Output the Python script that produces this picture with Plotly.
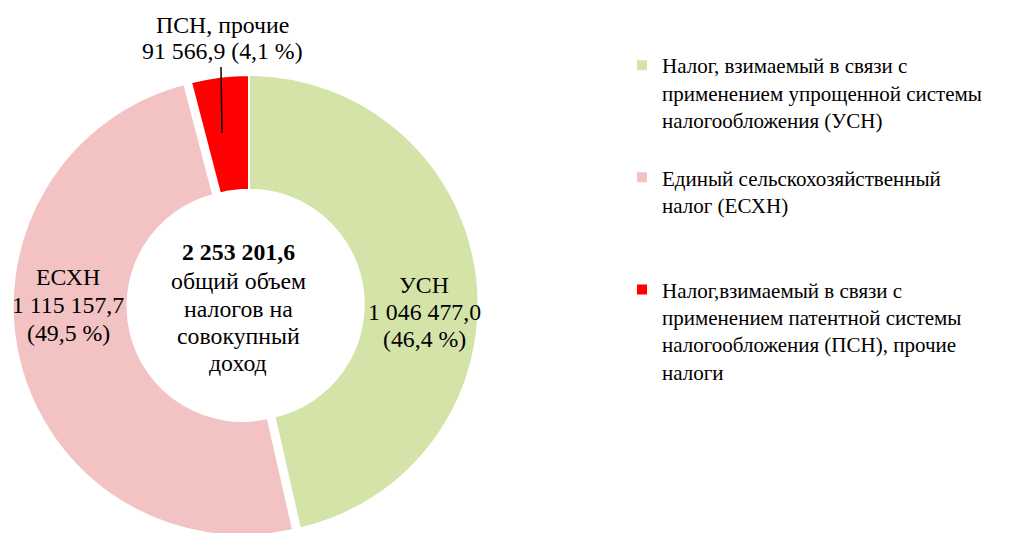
import plotly.graph_objects as go

# Data
categories = ["УСН", "ЕСХН", "ПСН, прочие"]
values = [1046477.0, 1115157.7, 91566.9]
value_labels = ["1 046 477,0", "1 115 157,7", "91 566,9"]
pct_labels = ["46,4 %", "49,5 %", "4,1 %"]
legend_names = [
    "Налог, взимаемый в связи с<br>применением упрощенной системы<br>налогообложения (УСН)<br> ",
    "Единый сельскохозяйственный<br>налог (ЕСХН)<br> <br> ",
    "Налог,взимаемый в связи с<br>применением патентной системы<br>налогообложения (ПСН), прочие<br>налоги",
]
total_label = "2 253 201,6"
center_caption = ["общий объем", "налогов на", "совокупный", "доход"]

colors = ["#D4E4A9", "#F2C3C2", "#FF0000"]
FONT = "Liberation Serif, Times New Roman, serif"
LABEL_SIZE = 23.8

W, H = 1031, 533
OFF = 8  # page body margin


def px(x, y):
    return (x - OFF) / W, 1 - (y - OFF) / H


fig = go.Figure()
fig.add_trace(go.Pie(
    labels=legend_names,
    values=values,
    sort=False,
    direction="clockwise",
    rotation=0,
    hole=0.5,
    pull=[0, 0.03, 0],
    marker=dict(colors=colors, line=dict(color="white", width=2)),
    textinfo="none",
    hoverinfo="label+value+percent",
    domain=dict(x=[0.001, 0.4665], y=[0.0, 0.8874]),
))

annotations = []


def add_lines(lines, x, ys, size=LABEL_SIZE, bold_first=False):
    for i, (t, y) in enumerate(zip(lines, ys)):
        ax_, ay_ = px(x, y)
        txt = f"<b>{t}</b>" if (bold_first and i == 0) else t
        annotations.append(dict(
            x=ax_, y=ay_, xref="paper", yref="paper", showarrow=False,
            xanchor="center", yanchor="middle", text=txt,
            font=dict(family=FONT, size=size, color="black"),
        ))


# center text
add_lines([total_label] + center_caption, 238, [252, 281, 309, 336, 363], bold_first=True)
# USN label
add_lines([categories[0], value_labels[0], f"({pct_labels[0]})"], 424, [285, 312, 339])
# ESXN label
add_lines([categories[1], value_labels[1], f"({pct_labels[1]})"], 68, [277, 305, 333])
# PSN label
add_lines([categories[2], f"{value_labels[2]} ({pct_labels[2]})"], 222, [25, 51])
# PSN leader line
x0, y0 = px(222, 133)
x1, y1 = px(221, 67)
fig.add_shape(type="line", xref="paper", yref="paper", x0=x0, y0=y0, x1=x1, y1=y1,
              line=dict(color="black", width=1.5))

lx, ly = px(622, 45)
fig.update_layout(
    width=W, height=H,
    margin=dict(l=0, r=0, t=0, b=0),
    paper_bgcolor="white", plot_bgcolor="white",
    font=dict(family=FONT, size=21, color="black"),
    showlegend=True,
    legend=dict(
        x=lx, y=ly, xanchor="left", yanchor="top",
        valign="top", traceorder="normal",
        font=dict(family=FONT, size=21, color="black"),
        bgcolor="rgba(0,0,0,0)",
    ),
    annotations=annotations,
)

fig.write_html("out.html")
